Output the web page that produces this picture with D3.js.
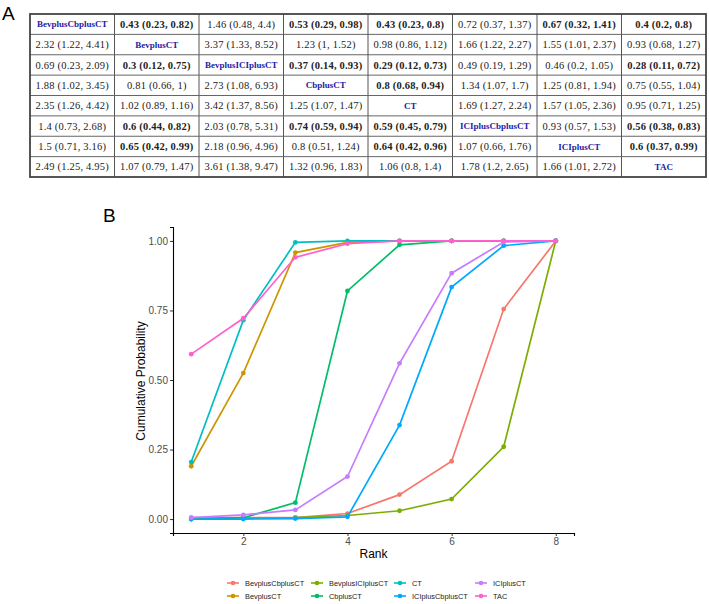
<!DOCTYPE html>
<html>
<head>
<meta charset="utf-8">
<script src="https://cdn.jsdelivr.net/npm/d3@7"></script>
<style>
  body { margin: 0; background: #fff; }
  svg { display: block; }
</style>
</head>
<body>
<svg width="709" height="604"></svg>
<script>
// treatments (table diagonal + chart series, same order)
const treatments = ['BevplusCbplusCT', 'BevplusCT', 'BevplusICIplusCT', 'CbplusCT',
    'CT', 'ICIplusCbplusCT', 'ICIplusCT', 'TAC'];

// league table rows (diagonal cell holds the treatment name)
const leagueRows = [
    ['BevplusCbplusCT', '0.43 (0.23, 0.82)', '1.46 (0.48, 4.4)', '0.53 (0.29, 0.98)', '0.43 (0.23, 0.8)', '0.72 (0.37, 1.37)', '0.67 (0.32, 1.41)', '0.4 (0.2, 0.8)'],
    ['2.32 (1.22, 4.41)', 'BevplusCT', '3.37 (1.33, 8.52)', '1.23 (1, 1.52)', '0.98 (0.86, 1.12)', '1.66 (1.22, 2.27)', '1.55 (1.01, 2.37)', '0.93 (0.68, 1.27)'],
    ['0.69 (0.23, 2.09)', '0.3 (0.12, 0.75)', 'BevplusICIplusCT', '0.37 (0.14, 0.93)', '0.29 (0.12, 0.73)', '0.49 (0.19, 1.29)', '0.46 (0.2, 1.05)', '0.28 (0.11, 0.72)'],
    ['1.88 (1.02, 3.45)', '0.81 (0.66, 1)', '2.73 (1.08, 6.93)', 'CbplusCT', '0.8 (0.68, 0.94)', '1.34 (1.07, 1.7)', '1.25 (0.81, 1.94)', '0.75 (0.55, 1.04)'],
    ['2.35 (1.26, 4.42)', '1.02 (0.89, 1.16)', '3.42 (1.37, 8.56)', '1.25 (1.07, 1.47)', 'CT', '1.69 (1.27, 2.24)', '1.57 (1.05, 2.36)', '0.95 (0.71, 1.25)'],
    ['1.4 (0.73, 2.68)', '0.6 (0.44, 0.82)', '2.03 (0.78, 5.31)', '0.74 (0.59, 0.94)', '0.59 (0.45, 0.79)', 'ICIplusCbplusCT', '0.93 (0.57, 1.53)', '0.56 (0.38, 0.83)'],
    ['1.5 (0.71, 3.16)', '0.65 (0.42, 0.99)', '2.18 (0.96, 4.96)', '0.8 (0.51, 1.24)', '0.64 (0.42, 0.96)', '1.07 (0.66, 1.76)', 'ICIplusCT', '0.6 (0.37, 0.99)'],
    ['2.49 (1.25, 4.95)', '1.07 (0.79, 1.47)', '3.61 (1.38, 9.47)', '1.32 (0.96, 1.83)', '1.06 (0.8, 1.4)', '1.78 (1.2, 2.65)', '1.66 (1.01, 2.72)', 'TAC']
];

// cells printed in bold (row,col)
const boldCells = ['0,1', '0,3', '0,4', '0,6', '0,7', '2,1', '2,3', '2,4', '2,7', '3,4',
    '5,1', '5,3', '5,4', '5,7', '6,1', '6,4', '6,7'];

// cumulative ranking probabilities, ranks 1..8
const ranks = [1, 2, 3, 4, 5, 6, 7, 8];
const BevplusCbplusCT = [0.005, 0.005, 0.005, 0.02, 0.088, 0.208, 0.755, 1];
const BevplusCT = [0.19, 0.525, 0.958, 0.995, 1, 1, 1, 1];
const BevplusICIplusCT = [0.0, 0.003, 0.005, 0.013, 0.03, 0.072, 0.26, 1];
const CbplusCT = [0.0, 0.005, 0.059, 0.82, 0.986, 1, 1, 1];
const CT = [0.205, 0.715, 0.995, 1, 1, 1, 1, 1];
const ICIplusCbplusCT = [0.0, 0.0, 0.002, 0.008, 0.338, 0.834, 0.983, 1];
const ICIplusCT = [0.005, 0.015, 0.033, 0.153, 0.56, 0.884, 0.996, 1];
const TAC = [0.593, 0.722, 0.941, 0.99, 1, 1, 1, 1];

const seriesValues = [BevplusCbplusCT, BevplusCT, BevplusICIplusCT, CbplusCT, CT, ICIplusCbplusCT, ICIplusCT, TAC];
const palette = ['#F8766D', '#CD9600', '#7CAE00', '#00BE67', '#00BFC4', '#00A9FF', '#C77CFF', '#FF61CC'];
const yTicks = [0, 0.25, 0.5, 0.75, 1];
const xTicks = [2, 4, 6, 8];

function drawAll() {
    const svg = d3.select('svg');
    const sans = 'Liberation Sans, Arial, sans-serif';

    // ---------- Panel A: league table ----------
    svg.append('text').text('A')
        .attr('x', 2).attr('y', 20)
        .style('font-family', sans)
        .style('font-size', '19px');

    const table = { left: 30, right: 706, top: 14, bottom: 177 };
    const colScale = d3.scaleBand().domain(d3.range(8)).range([table.left, table.right]);
    const rowScale = d3.scaleBand().domain(d3.range(8)).range([table.top, table.bottom]);

    const cells = [];
    leagueRows.forEach((row, r) => row.forEach((txt, c) => cells.push({ r, c, txt })));

    const gA = svg.append('g');
    gA.selectAll('text.cell')
        .data(cells)
        .join('text')
        .attr('class', 'cell')
        .attr('x', d => colScale(d.c) + colScale.bandwidth() / 2)
        .attr('y', d => rowScale(d.r) + rowScale.bandwidth() / 2)
        .attr('dy', '0.35em')
        .attr('text-anchor', 'middle')
        .style('font-family', 'Liberation Serif, DejaVu Serif, serif')
        .style('font-size', d => d.r === d.c ? '9px' : '10.5px')
        .style('font-weight', d => (d.r === d.c || boldCells.includes(d.r + ',' + d.c)) ? 'bold' : 'normal')
        .style('fill', d => d.r === d.c ? '#1c1ca8' : '#222')
        .style('letter-spacing', d => d.r === d.c ? '0px' : '0.2px')
        .text(d => d.txt);

    // grid lines
    d3.range(1, 8).forEach(i => {
        gA.append('line')
            .attr('x1', colScale(i)).attr('x2', colScale(i))
            .attr('y1', table.top).attr('y2', table.bottom)
            .attr('stroke', '#555').attr('stroke-width', 1);
        gA.append('line')
            .attr('x1', table.left).attr('x2', table.right)
            .attr('y1', rowScale(i)).attr('y2', rowScale(i))
            .attr('stroke', '#666').attr('stroke-width', 1);
    });
    gA.append('rect')
        .attr('x', table.left).attr('y', table.top)
        .attr('width', table.right - table.left).attr('height', table.bottom - table.top)
        .attr('fill', 'none').attr('stroke', '#444').attr('stroke-width', 1.8);

    // ---------- Panel B: cumulative ranking plot ----------
    svg.append('text').text('B')
        .attr('x', 103).attr('y', 222)
        .style('font-family', sans)
        .style('font-size', '19px');

    const xScale = d3.scaleLinear().domain([0.65, 8.35]).range([173, 574]);
    const yScale = d3.scaleLinear().domain([-0.05, 1.05]).range([533, 227]);

    const line = d3.line()
        .x((d, i) => xScale(ranks[i]))
        .y(d => yScale(d));

    const series = treatments.map((name, k) => ({ name, values: seriesValues[k], color: palette[k] }));

    const gB = svg.append('g');
    series.forEach(s => {
        gB.append('path')
            .datum(s.values)
            .attr('d', line)
            .attr('fill', 'none')
            .attr('stroke', s.color)
            .attr('stroke-width', 1.7);
        gB.selectAll(null)
            .data(s.values)
            .join('circle')
            .attr('cx', (d, i) => xScale(ranks[i]))
            .attr('cy', d => yScale(d))
            .attr('r', 2.4)
            .attr('fill', s.color);
    });

    // axes
    const xAxis = d3.axisBottom(xScale).tickValues(xTicks).tickSize(3).tickPadding(2);
    const yAxis = d3.axisLeft(yScale).tickValues(yTicks).tickFormat(d3.format('.2f')).tickSize(3).tickPadding(2);
    const gx = svg.append('g').attr('transform', 'translate(0,533)').call(xAxis);
    const gy = svg.append('g').attr('transform', 'translate(173,0)').call(yAxis);
    [gx, gy].forEach(g => {
        g.select('.domain').attr('stroke', '#000').attr('stroke-width', 1.1);
        g.selectAll('.tick line').attr('stroke', '#333');
        g.selectAll('.tick text')
            .style('font-family', sans)
            .style('font-size', '10px')
            .style('fill', '#4d4d4d');
    });

    // axis titles
    svg.append('text')
        .text('Rank')
        .attr('x', 373.5)
        .attr('y', 558)
        .attr('text-anchor', 'middle')
        .style('font-family', sans)
        .style('font-size', '12px');
    svg.append('text')
        .text('Cumulative Probability')
        .attr('transform', 'translate(145,381) rotate(-90)')
        .attr('text-anchor', 'middle')
        .style('font-family', sans)
        .style('font-size', '12px');

    // legend: 4 columns x 2 rows, filled by column
    const legendCols = [233, 317, 400, 481];
    const legendRows = [583, 596];
    const gL = svg.append('g');
    series.forEach((s, k) => {
        const cx = legendCols[Math.floor(k / 2)];
        const cy = legendRows[k % 2];
        gL.append('line')
            .attr('x1', cx - 6).attr('x2', cx + 6)
            .attr('y1', cy).attr('y2', cy)
            .attr('stroke', s.color).attr('stroke-width', 1.6);
        gL.append('circle')
            .attr('cx', cx).attr('cy', cy).attr('r', 2.3)
            .attr('fill', s.color);
        gL.append('text')
            .text(s.name)
            .attr('x', cx + 12)
            .attr('y', cy)
            .attr('dy', '0.35em')
            .style('font-family', sans)
            .style('font-size', '7.4px')
            .style('fill', '#222');
    });
}

window.addEventListener('load', drawAll);
</script>
</body>
</html>
